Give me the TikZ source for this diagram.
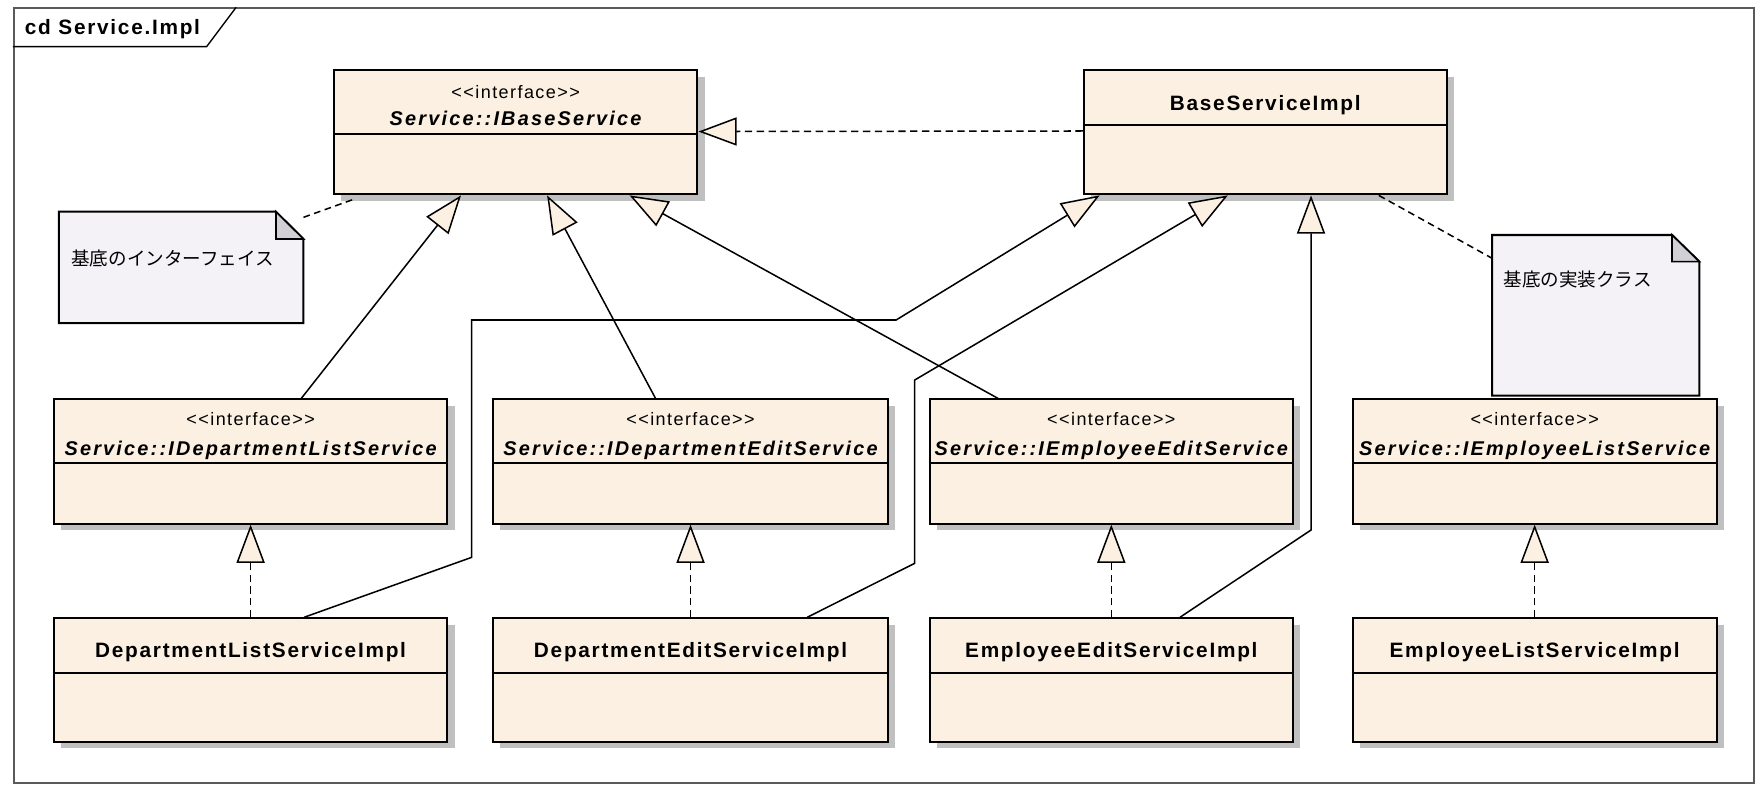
\documentclass[tikz,border=0pt]{standalone}
\usepackage{fontspec}
\setmainfont{Liberation Sans}
\newfontfamily\clsfont[LetterSpace=8.3]{Liberation Sans}
\newfontfamily\iffont[LetterSpace=11]{Liberation Sans}
\newfontfamily\stfont[LetterSpace=8]{Liberation Sans}
\newfontfamily\jpfont{Noto Sans CJK JP}
\usetikzlibrary{arrows.meta,shadows}
\definecolor{classfill}{RGB}{251,240,225}
\definecolor{notefill}{RGB}{245,242,247}
\definecolor{foldfill}{RGB}{210,207,214}
\definecolor{shadowgray}{RGB}{192,192,192}
\definecolor{framegray}{RGB}{90,90,90}
\begin{document}
\begin{tikzpicture}[x=1pt,y=-1pt,
  classbox/.style={draw=black, line width=1.8pt, fill=classfill, inner sep=0pt, anchor=north west,
    drop shadow={shadow xshift=6.5pt, shadow yshift=-6pt, fill=shadowgray, opacity=1}},
  notebox/.style={inner sep=0pt, anchor=north west},
  noteshape/.style={draw=black, line width=1.8pt, fill=notefill, line join=miter},
  foldshape/.style={draw=black, line width=1.5pt, fill=foldfill, line join=miter},
  divider/.style={draw=black, line width=1.8pt},
  clsname/.style={font=\clsfont\fontsize{18.5}{20}\selectfont\bfseries, anchor=base, inner sep=0pt},
  ifname/.style={font=\iffont\fontsize{17.7}{20}\selectfont\bfseries\itshape, anchor=base, inner sep=0pt},
  stereo/.style={font=\stfont\fontsize{16}{18}\selectfont, anchor=base, inner sep=0pt},
  notetext/.style={font=\jpfont\fontsize{16.5}{19}\selectfont, anchor=west, inner sep=0pt},
  gen/.style={draw=black, line width=1.35pt, line join=miter,
    -{Triangle[open, length=34pt, width=25pt, fill=classfill]}},
  real/.style={gen, dash pattern=on 6.5pt off 4pt},
  notelink/.style={draw=black, line width=1.35pt, dash pattern=on 6pt off 4pt}
]
\useasboundingbox (0,0) rectangle (1568,698);

% frame
\node[draw=framegray, line width=1.5pt, inner sep=0pt, anchor=north west,
  minimum width=1548.1pt, minimum height=689pt] (frame) at (11.4,6.5) {};
\draw[draw=black, line width=1.2pt] ([yshift=-35pt]frame.north west) -- ++(172.4,0) -- ([xshift=198.6pt]frame.north west);
\node[font=\clsfont\fontsize{18.5}{20}\selectfont\bfseries, anchor=base west, inner sep=0pt] (title) at (22,30.8) {cd Service.Impl};

% top row
\node[classbox, minimum width=323.4pt, minimum height=110.3pt] (ibs) at (296,61.7) {};
\draw[divider] ([yshift=-57.2pt]ibs.north west) -- ([yshift=-57.2pt]ibs.north east);
\node[stereo] (ibs-st) at ([yshift=-26pt]ibs.north) {<<interface>>};
\node[ifname] (ibs-nm) at ([yshift=-50pt]ibs.north) {Service::IBaseService};

\node[classbox, minimum width=322.8pt, minimum height=110.3pt] (bsi) at (963,61.7) {};
\draw[divider] ([yshift=-49.5pt]bsi.north west) -- ([yshift=-49.5pt]bsi.north east);
\node[clsname] (bsi-nm) at ([yshift=-36.8pt]bsi.north) {BaseServiceImpl};

% notes
\node[notebox, minimum width=217.2pt, minimum height=98.7pt] (note1) at (52.3,188.3) {};
\draw[noteshape] (note1.north west) -- ([xshift=-24.5pt]note1.north east) -- ([yshift=-24.2pt]note1.north east)
  -- (note1.south east) -- (note1.south west) -- cycle;
\draw[foldshape] ([xshift=-24.5pt]note1.north east) -- ([xshift=-24.5pt,yshift=-24.2pt]note1.north east)
  -- ([yshift=-24.2pt]note1.north east) -- cycle;
\node[notetext] (note1-tx) at (63.3,229.6) {基底のインターフェイス};

\node[notebox, minimum width=184pt, minimum height=142.5pt] (note2) at (1327,209) {};
\draw[noteshape] (note2.north west) -- ([xshift=-24.3pt]note2.north east) -- ([yshift=-23.7pt]note2.north east)
  -- (note2.south east) -- (note2.south west) -- cycle;
\draw[foldshape] ([xshift=-24.3pt]note2.north east) -- ([xshift=-24.3pt,yshift=-23.7pt]note2.north east)
  -- ([yshift=-23.7pt]note2.north east) -- cycle;
\node[notetext] (note2-tx) at (1337,249) {基底の実装クラス};

% interface row
\node[classbox, minimum width=350pt, minimum height=110.5pt] (idls) at (47,354.3) {};
\node[classbox, minimum width=351.5pt, minimum height=110.5pt] (ides) at (437.5,354.3) {};
\node[classbox, minimum width=323pt, minimum height=110.5pt] (iees) at (826,354.3) {};
\node[classbox, minimum width=324pt, minimum height=110.5pt] (iels) at (1202,354.3) {};
\foreach \n in {idls,ides,iees,iels}{
  \draw[divider] ([yshift=-57.7pt]\n.north west) -- ([yshift=-57.7pt]\n.north east);
}
\node[stereo] (idls-st) at ([yshift=-23.7pt]idls.north) {<<interface>>};
\node[stereo] (ides-st) at ([yshift=-23.7pt]ides.north) {<<interface>>};
\node[stereo] (iees-st) at ([yshift=-23.7pt]iees.north) {<<interface>>};
\node[stereo] (iels-st) at ([yshift=-23.7pt]iels.north) {<<interface>>};
\node[ifname] (idls-nm) at ([yshift=-50.4pt]idls.north) {Service::IDepartmentListService};
\node[ifname] (ides-nm) at ([yshift=-50.4pt]ides.north) {Service::IDepartmentEditService};
\node[ifname] (iees-nm) at ([yshift=-50.4pt]iees.north) {Service::IEmployeeEditService};
\node[ifname] (iels-nm) at ([yshift=-50.4pt]iels.north) {Service::IEmployeeListService};

% implementation row
\node[classbox, minimum width=350pt, minimum height=109.7pt] (dlsi) at (47,549) {};
\node[classbox, minimum width=351.5pt, minimum height=109.7pt] (desi) at (437.5,549) {};
\node[classbox, minimum width=323pt, minimum height=109.7pt] (eesi) at (826,549) {};
\node[classbox, minimum width=324pt, minimum height=109.7pt] (elsi) at (1202,549) {};
\foreach \n in {dlsi,desi,eesi,elsi}{
  \draw[divider] ([yshift=-49.3pt]\n.north west) -- ([yshift=-49.3pt]\n.north east);
}
\node[clsname] (dlsi-nm) at ([yshift=-36pt]dlsi.north) {DepartmentListServiceImpl};
\node[clsname] (desi-nm) at ([yshift=-36pt]desi.north) {DepartmentEditServiceImpl};
\node[clsname] (eesi-nm) at ([yshift=-36pt]eesi.north) {EmployeeEditServiceImpl};
\node[clsname] (elsi-nm) at ([yshift=-36pt]elsi.north) {EmployeeListServiceImpl};

% connectors to IBaseService
\draw[gen] ([xshift=221pt]idls.north west) -- ([xshift=114pt]ibs.south west);
\draw[gen] ([xshift=145.5pt]ides.north west) -- ([xshift=190.6pt]ibs.south west);
\draw[gen] ([xshift=61.6pt]iees.north west) -- ([xshift=264pt]ibs.south west);
\draw[real] ([yshift=-54.8pt]bsi.north west) -- ([yshift=-55.3pt]ibs.north east);

% connectors to BaseServiceImpl
\draw[gen] ([xshift=223.5pt]dlsi.north west) -- (419.5,495.7) -- (419.5,284.6) -- (797,284.6) -- ([xshift=15pt]bsi.south west);
\draw[gen] ([xshift=280.5pt]desi.north west) -- (813.5,501) -- (813.5,338) -- ([xshift=129pt]bsi.south west);
\draw[gen] ([xshift=223.5pt]eesi.north west) -- (1166,471.4) -- ([xshift=203pt]bsi.south west);

% realizations
\draw[real] (dlsi.north) -- (idls.south);
\draw[real] (desi.north) -- (ides.south);
\draw[real] (eesi.north) -- (iees.south);
\draw[real] (elsi.north) -- (iels.south);

% note links
\draw[notelink] ([yshift=-5pt]note1.north east) -- ([xshift=18.4pt,yshift=-3.5pt]ibs.south west);
\draw[notelink] ([xshift=263.3pt]bsi.south west) -- ([yshift=-20.7pt]note2.north west);
\end{tikzpicture}
\end{document}
